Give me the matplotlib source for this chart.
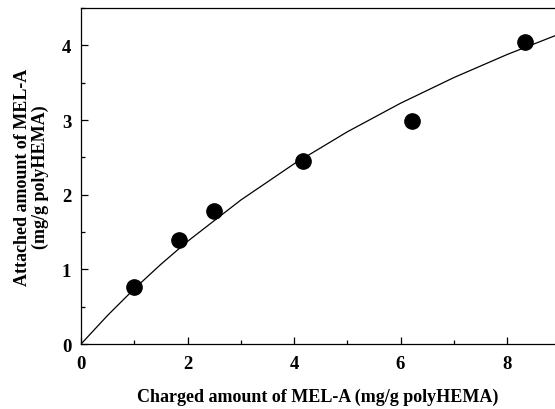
import matplotlib
matplotlib.use("Agg")
import matplotlib.pyplot as plt
from matplotlib.ticker import MultipleLocator

# measured points
charged = [0.99, 1.84, 2.49, 4.17, 6.22, 8.33]
attached = [0.76, 1.39, 1.78, 2.45, 2.99, 4.05]

# fitted curve
fit_x = [0, 0.5, 1, 1.5, 2, 3, 4, 5, 6, 7, 8, 9]
fit_y = [0, 0.384, 0.739, 1.068, 1.375, 1.928, 2.413, 2.842, 3.225, 3.568, 3.877, 4.157]

plt.rcParams['font.family'] = ['Liberation Serif', 'DejaVu Serif']
plt.rcParams['font.weight'] = 'bold'

fig = plt.figure(figsize=(5.55, 4.10), dpi=100)
ax = fig.add_axes([0.146, 0.1585, 0.854, 0.8195])

ax.plot(fit_x, fit_y, color='black', lw=0.9, zorder=2)
ax.plot(charged, attached, 'o', color='black', ms=11, zorder=3)

ax.set_xlim(0, 8.9)
ax.set_ylim(0, 4.5)
ax.xaxis.set_major_locator(MultipleLocator(2))
ax.xaxis.set_minor_locator(MultipleLocator(1))
ax.yaxis.set_major_locator(MultipleLocator(1))
ax.yaxis.set_minor_locator(MultipleLocator(0.5))
ax.tick_params(which='both', direction='in', width=0.9, labelsize=13.5)
ax.tick_params(which='major', length=5)
ax.tick_params(which='minor', length=3)
ax.tick_params(axis='x', which='major', pad=8)
ax.tick_params(axis='y', which='major', pad=7)
ax.spines['right'].set_visible(False)
for s in ['left', 'bottom', 'top']:
    ax.spines[s].set_linewidth(0.9)

ax.set_xlabel("Charged amount of MEL-A (mg/g polyHEMA)", fontsize=13, fontweight='bold', labelpad=11)
ax.set_ylabel("Attached amount of MEL-A\n(mg/g polyHEMA)", fontsize=13, fontweight='bold',
              labelpad=9, linespacing=1.05)

fig.savefig("out.png", dpi=100)
